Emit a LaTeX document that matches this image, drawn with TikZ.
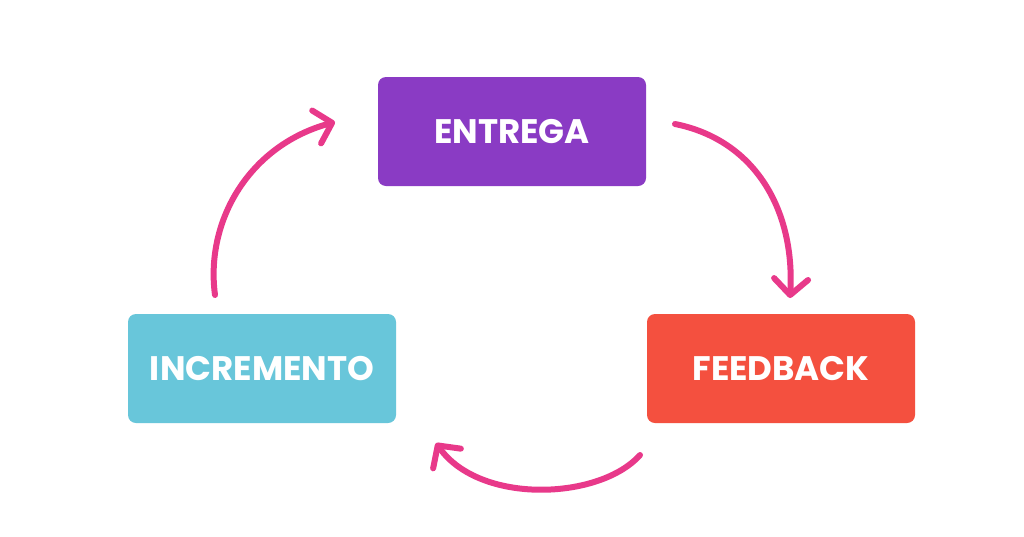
\documentclass[tikz,border=0pt]{standalone}
\usepackage{fontspec}
\setmainfont{Poppins}
\usetikzlibrary{arrows.meta}
\definecolor{purp}{HTML}{8A3BC4}
\definecolor{redb}{HTML}{F4503F}
\definecolor{cyanb}{HTML}{68C6DA}
\definecolor{pink}{HTML}{E8398A}
\begin{document}
\begin{tikzpicture}[x=1pt,y=-1pt,
 box/.style={rounded corners=8pt,minimum width=268pt,minimum height=109pt,inner sep=0pt,text=white,font=\fontsize{34}{40}\selectfont\bfseries},
 arr/.style={draw=pink,line width=6pt,line cap=round,-{Straight Barb[length=16pt,width=34pt,line cap=round,round]}}]
\useasboundingbox (0,0) rectangle (1024,536);
\fill[white] (0,0) rectangle (1024,536);
\node[box,fill=purp] (e) at (512,131.5) {ENTREGA};
\node[box,fill=redb] (f) at (781,368.5) {FEEDBACK};
\node[box,fill=cyanb] (i) at (262,368.5) {INCREMENTO};
\coordinate (a1) at (675,124); \coordinate (b1) at (790,298);
\coordinate (a2) at (640,455); \coordinate (b2) at (436,443);
\coordinate (a3) at (215,295); \coordinate (b3) at (335,122);
\draw[arr] (a1) .. controls (755,140) and (795,210) .. (b1);
\draw[arr] (a2) .. controls (600,500) and (480,505) .. (b2);
\draw[arr] (a3) .. controls (205,220) and (250,145) .. (b3);
\end{tikzpicture}
\end{document}
